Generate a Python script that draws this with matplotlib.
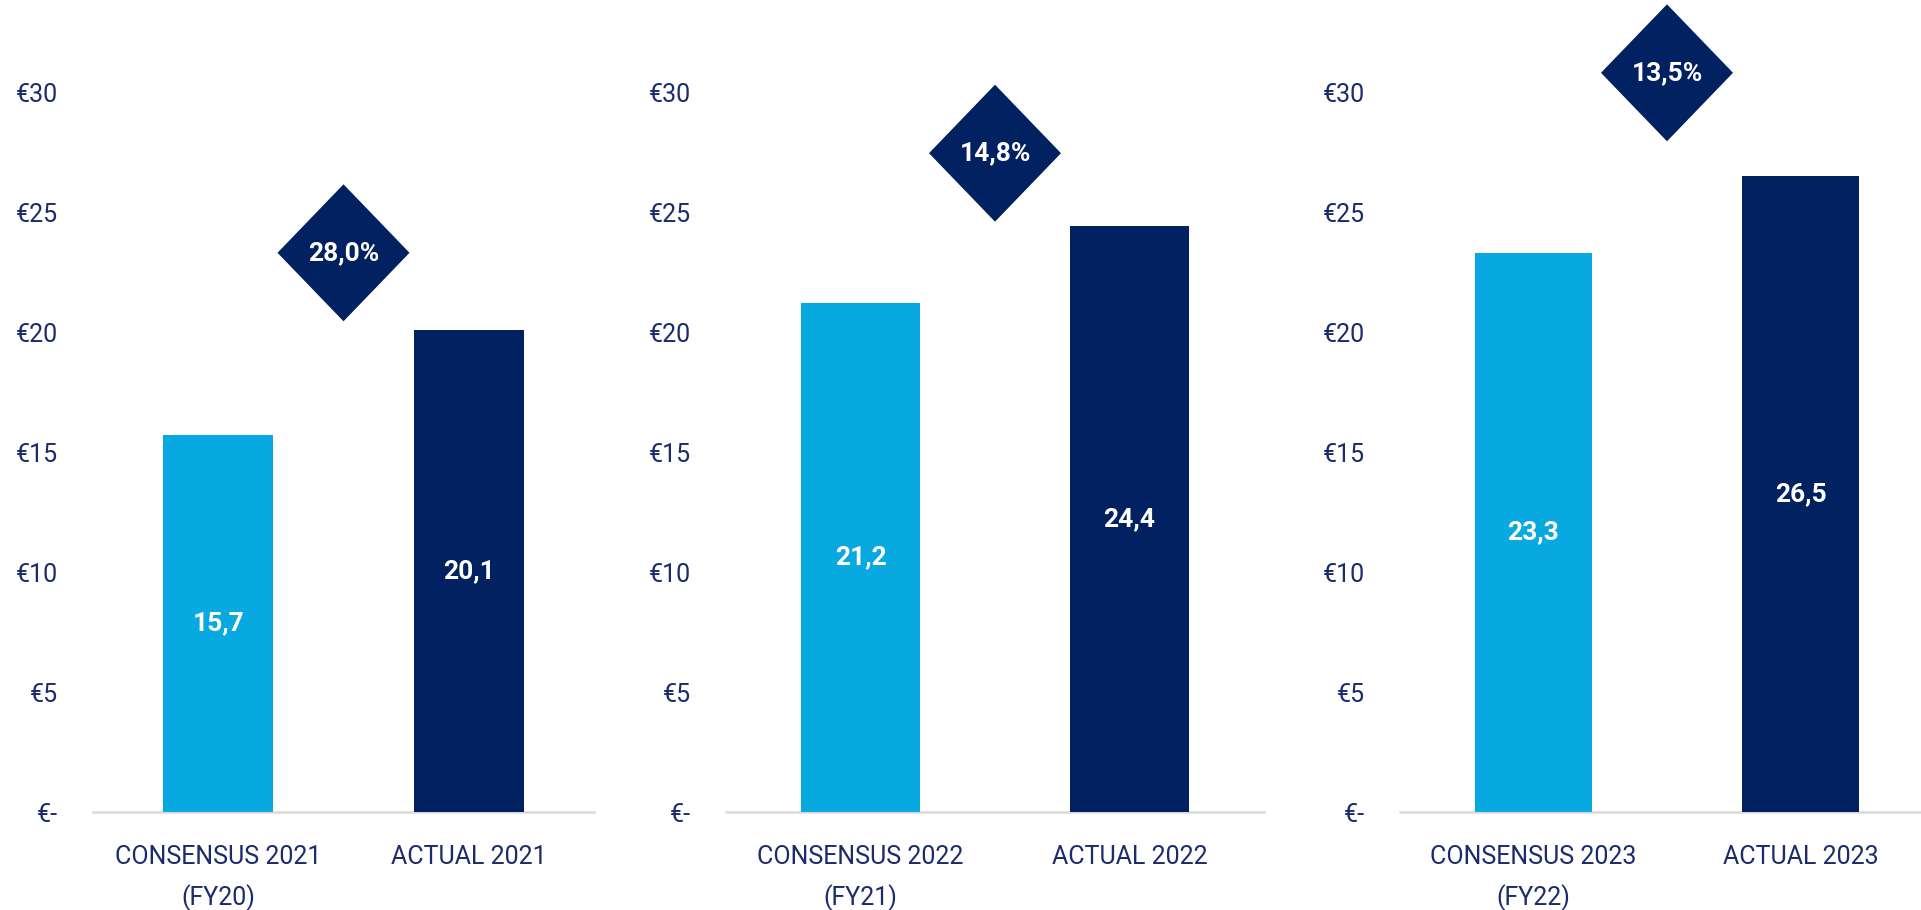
import matplotlib
matplotlib.use("Agg")
import matplotlib.pyplot as plt
from matplotlib.patches import Polygon
from matplotlib.transforms import ScaledTranslation

# ---------------- data ----------------
years = ["2021", "2022", "2023"]
consensus = [15.7, 21.2, 23.3]
actual = [20.1, 24.4, 26.5]
growth_labels = ["28,0%", "14,8%", "13,5%"]
consensus_labels = ["CONSENSUS 2021\n(FY20)", "CONSENSUS 2022\n(FY21)", "CONSENSUS 2023\n(FY22)"]
actual_labels = ["ACTUAL 2021", "ACTUAL 2022", "ACTUAL 2023"]
yticks = [0, 5, 10, 15, 20, 25, 30]
ytick_labels = ["€-", "€5", "€10", "€15", "€20", "€25", "€30"]

# ---------------- layout / style ----------------
W, H = 1921, 910
panel_px = [(93, 594), (726, 1264), (1400, 1934)]
base_px, top_px = 812, 92
diamond_y = [23.3, 27.45, 30.8]
diamond_half_w, diamond_half_h = 0.66, 0.685  # inches at dpi 100

LIGHT = "#08A8E0"
DARK = "#022161"
TEXT = "#1B2B6B"
GRID = "#D9D9D9"
FONT = "Roboto"

plt.rcParams["font.family"] = [FONT, "DejaVu Sans"]

fig = plt.figure(figsize=(W / 100, H / 100), dpi=100)

def fmt(v):
    return f"{v:.1f}".replace(".", ",")

for i in range(len(years)):
    l, r = panel_px[i]
    ax = fig.add_axes([l / W, 1 - base_px / H, (r - l) / W, (base_px - top_px) / H])
    ax.set_xlim(-0.5, 1.5)
    ax.set_ylim(0, 30)
    vals = [consensus[i], actual[i]]
    ax.bar([0, 1], vals, width=0.44, color=[LIGHT, DARK], zorder=2)
    for x, v in zip([0, 1], vals):
        ax.text(x, v / 2, fmt(v), ha="center", va="center", color="white",
                fontsize=19, fontweight="bold", zorder=3)
    # diamond
    dy = diamond_y[i]
    tr = fig.dpi_scale_trans + ScaledTranslation(0.5, dy, ax.transData)
    poly = Polygon([(0, diamond_half_h), (diamond_half_w, 0), (0, -diamond_half_h),
                    (-diamond_half_w, 0)], closed=True, facecolor=DARK,
                   edgecolor="none", transform=tr, clip_on=False, zorder=3)
    ax.add_patch(poly)
    ax.text(0.5, dy, growth_labels[i], ha="center", va="center", color="white",
            fontsize=19, fontweight="bold", zorder=4, clip_on=False)

    ax.set_yticks(yticks)
    ax.set_yticklabels(ytick_labels)
    ax.set_xticks([0, 1])
    ax.set_xticklabels([consensus_labels[i], actual_labels[i]], linespacing=1.7, va="top")
    ax.tick_params(axis="y", length=0, pad=25, labelsize=18, labelcolor=TEXT)
    ax.tick_params(axis="x", length=0, pad=24, labelsize=18, labelcolor=TEXT)
    for s in ["top", "right", "left"]:
        ax.spines[s].set_visible(False)
    ax.spines["bottom"].set_color(GRID)
    ax.spines["bottom"].set_linewidth(1.8)
    ax.spines["bottom"].set_zorder(1)
    ax.patch.set_alpha(0)

fig.savefig("out.png", dpi=100, facecolor="white")
